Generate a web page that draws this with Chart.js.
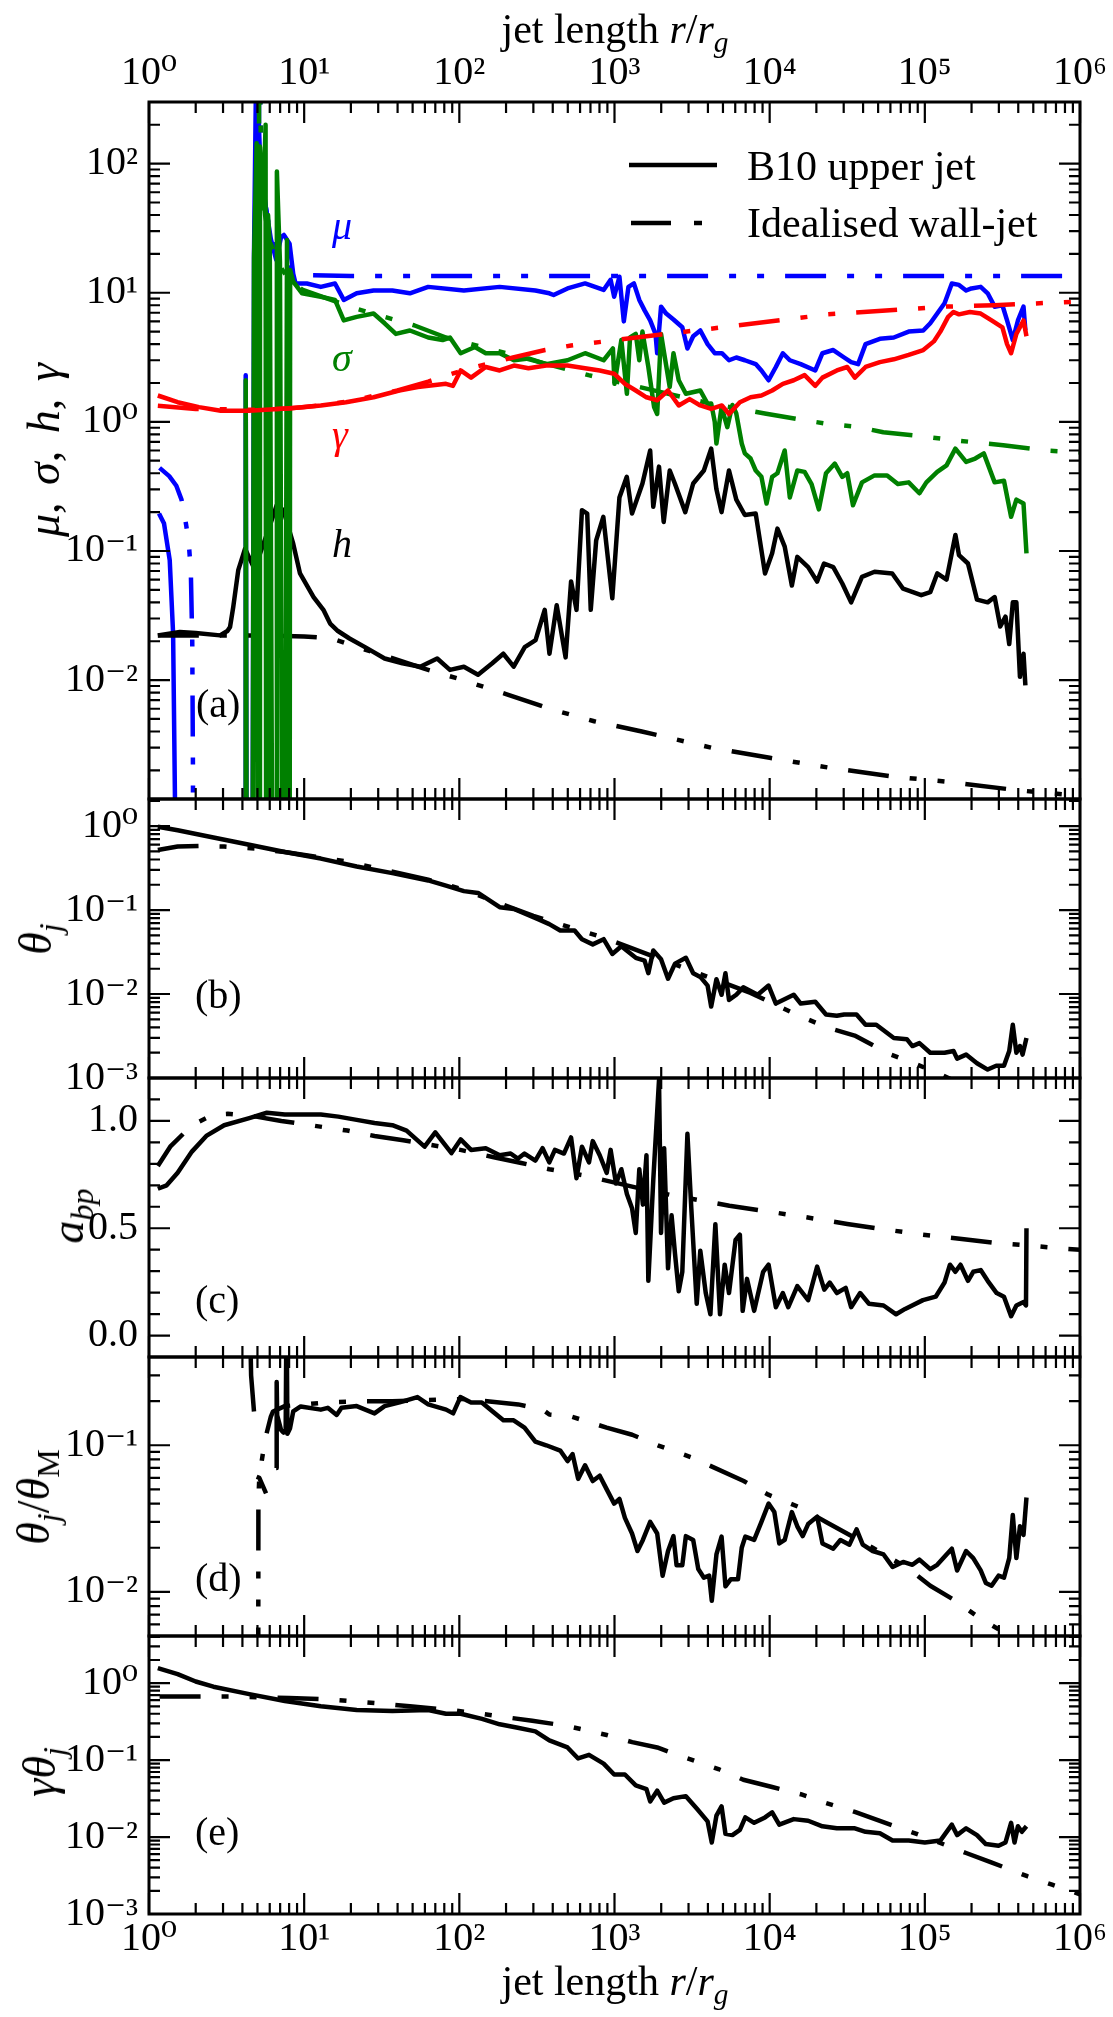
<!DOCTYPE html>
<html>
<head>
<meta charset="utf-8">
<title>Jet profiles</title>
<script src="https://cdn.jsdelivr.net/npm/chart.js@4.4.1/dist/chart.umd.min.js"></script>
<style>
  html, body { margin: 0; background: #fff; }
  #fig { position: relative; width: 1113px; height: 2017px; overflow: hidden;
         font-family: "Liberation Serif", "DejaVu Serif", serif; color: #000; }
  #fig canvas { position: absolute; left: 0; }
  .t { position: absolute; font-size: 40px; line-height: 1; white-space: nowrap; }
  .c { transform: translateX(-50%); }
  .yl { position: absolute; font-size: 46px; line-height: 1; white-space: nowrap;
        transform: translate(-50%, -50%) rotate(-90deg); }
  sub { font-size: 0.7em; vertical-align: -0.3em; line-height: 0; }
</style>
</head>
<body>
<div id="fig">
  <canvas id="pa" width="1113" height="829" style="top:0px"></canvas>
  <canvas id="pb" width="1113" height="339" style="top:769px"></canvas>
  <canvas id="pc" width="1113" height="339" style="top:1048px"></canvas>
  <canvas id="pd" width="1113" height="339" style="top:1327px"></canvas>
  <canvas id="pe" width="1113" height="411" style="top:1606px"></canvas>

  <div class="t c" style="left:615px;top:8px;font-size:42px">jet length <i>r</i>/<i>r</i><sub><i>g</i></sub></div>
  <div class="t c" style="left:615px;top:1960px;font-size:42px">jet length <i>r</i>/<i>r</i><sub><i>g</i></sub></div>

  <div class="yl" style="left:44px;top:450px;word-spacing:6px"><i>μ</i>, <i>σ</i>, <i>h</i>, <i>γ</i></div>
  <div class="yl" style="left:36px;top:939px"><i>θ</i><sub><i>j</i></sub></div>
  <div class="yl" style="left:68px;top:1216px"><i>a</i><sub><i>bp</i></sub></div>
  <div class="yl" style="left:34px;top:1497px"><i>θ</i><sub><i>j</i></sub>/<i>θ</i><sub>M</sub></div>
  <div class="yl" style="left:40px;top:1772px"><i>γθ</i><sub><i>j</i></sub></div>

  <div class="t" style="left:196px;top:684px">(a)</div>
  <div class="t" style="left:195px;top:975px">(b)</div>
  <div class="t" style="left:195px;top:1280px">(c)</div>
  <div class="t" style="left:195px;top:1558px">(d)</div>
  <div class="t" style="left:195px;top:1812px">(e)</div>

  <div class="t" style="left:332px;top:206px;color:#0000ff"><i>μ</i></div>
  <div class="t" style="left:332px;top:338px;color:#008000"><i>σ</i></div>
  <div class="t" style="left:332px;top:415px;color:#ff0000"><i>γ</i></div>
  <div class="t" style="left:332px;top:524px"><i>h</i></div>

  <svg style="position:absolute;left:0;top:0" width="1113" height="260">
    <line x1="629" y1="165" x2="717" y2="165" stroke="#000" stroke-width="4.5"/>
    <line x1="631" y1="223" x2="717" y2="223" stroke="#000" stroke-width="4.5" stroke-dasharray="40 23 8 60"/>
  </svg>
  <div class="t" style="left:747px;top:145px;font-size:42px">B10 upper jet</div>
  <div class="t" style="left:747px;top:202px;font-size:42px">Idealised wall-jet</div>
</div>

<script>
// values: [r/r_g, value]; null breaks a line,
// tiny values stand for points that fall below the axis (negative in the original)

// --- panel (a): mu, sigma, gamma, h ---
const muJet = [[1.16, 0.195], [1.25, 0.163], [1.36, 0.085], [1.43, 0.023], [1.47, 0.0012], [1.48, 1e-5], [1.5, null],
  [4.17, 1e-5], [4.2, 2.3], [4.28, 1e-5], [4.62, 1e-5], [4.75, 20], [4.9, 500], [5.0, 400], [5.2, 110], [5.6, 50],
  [6.1, 26], [6.6, 18], [7.1, 27], [7.4, 28], [8.05, 24], [8.5, 14], [8.8, 11.8], [10.4, 11.8], [12.8, 11.1],
  [15.8, 11.8], [18, 8.8], [21.8, 9.9], [28, 10.4], [37, 10.4], [48, 9.9], [63, 11.1], [107, 10.4], [182, 11.1],
  [309, 10.4], [380, 9.9], [405, 9.6], [498, 10.8], [646, 11.8], [851, 10.5], [944, 12.6], [995, 9.3], [1076, 13.3],
  [1148, 6], [1230, 11.1], [1334, 11.8], [1445, 8.8], [1563, 7.3], [1698, 6.1], [1837, 4.8], [1884, 3.4], [1995, 7.8],
  [2153, 6.9], [2399, 6.2], [2735, 5.4], [2951, 3.7], [3214, 4.6], [3573, 5.1], [3981, 4.0], [4426, 3.4], [4920, 3.4],
  [5470, 3.0], [6095, 3.15], [6918, 3.0], [8128, 2.8], [8851, 2.5], [9840, 2.1], [10960, 2.66], [12160, 3.4],
  [13490, 3.0], [15850, 2.8], [19680, 2.5], [21880, 3.4], [25700, 3.6], [30200, 3.15], [33500, 2.9], [37150, 2.8],
  [41500, 4.0], [51300, 4.4], [63100, 4.5], [78700, 5.0], [97700, 5.1], [108400, 5.8], [120200, 6.9], [134000, 8.3],
  [149300, 11.8], [166000, 11.5], [184500, 10.4], [199500, 10.8], [229100, 11.1], [254100, 9.9], [281800, 7.8],
  [316200, 8.0], [338800, 6.1], [368900, 4.3], [398100, 6.1], [432500, 7.8], [444600, 5.1]];
const muWall = [[1.17, 0.44], [1.35, 0.38], [1.5, 0.32], [1.62, 0.25], [1.72, 0.17], [1.8, 0.12], [1.86, 0.07],
  [1.9, 0.02], [1.92, 0.002], [1.93, 1e-5], [2, null], [5.08, 1e-5], [5.12, 1000], [5.3, 110], [5.6, 50], [6, 30],
  [7, 19], [8, 15.5], [9, 14.2], [10, 13.7], [20, 13.5], [1e6, 13.5]];
const sigmaJet = [[4.17, 1e-5], [4.2, 2.1], [4.28, 1e-5], [4.62, 1e-5], [4.75, 18.5], [4.94, 144], [5.02, 1e-5],
  [5.12, 1e-5], [5.19, 135], [5.45, 45], [5.64, 200], [5.7, 1e-5], [5.78, 1e-5], [5.85, 40], [6.0, 24], [6.3, 1e-5],
  [6.6, 1e-5], [6.67, 87], [6.98, 17.4], [7.3, 1e-5], [7.5, 1e-5], [7.75, 25.6], [7.85, 1e-5], [8.05, 1e-5],
  [8.12, 15], [8.5, 12.2], [9.7, 9.9], [12.8, 9.3], [15.8, 8.8], [18, 6.1], [21.8, 6.5], [28, 6.9], [33, 5.8],
  [39, 4.8], [48, 5.1], [63, 4.5], [78, 4.3], [87, 4.5], [102, 3.4], [126, 3.8], [148, 3.4], [182, 3.4], [225, 3.0],
  [279, 3.1], [363, 2.8], [498, 3.0], [646, 3.4], [851, 3.0], [977, 3.7], [1000, 1.97], [1107, 4.3], [1202, 1.65],
  [1259, 4.5], [1371, 4.8], [1445, 3.0], [1514, 5.0], [1652, 2.66], [1800, 1.3], [1884, 1.15], [1995, 4.8],
  [2089, 3.4], [2270, 1.86], [2399, 3.4], [2594, 2.1], [2884, 1.65], [3573, 1.75], [3981, 1.38], [4198, 1.39],
  [4426, 1.0], [4539, 0.68], [4898, 1.3], [5333, 0.91], [5754, 1.35], [6095, 1.16], [6607, 0.68], [6918, 0.57],
  [7534, 0.52], [8128, 0.42], [8851, 0.375], [9550, 0.233], [10375, 0.375], [11220, 0.4], [12500, 0.6],
  [13490, 0.26], [15070, 0.42], [16790, 0.41], [18620, 0.33], [20750, 0.21], [23070, 0.4], [26300, 0.475],
  [29380, 0.375], [31620, 0.4], [34430, 0.226], [39350, 0.34], [47430, 0.385], [57150, 0.385], [66990, 0.33],
  [78700, 0.34], [92260, 0.28], [102300, 0.34], [120200, 0.41], [138000, 0.46], [157400, 0.62], [184500, 0.49],
  [211300, 0.52], [239900, 0.57], [281800, 0.34], [323600, 0.35], [359700, 0.184], [389000, 0.25], [432500, 0.233],
  [451900, 0.096]];
const sigmaWall = [[5.08, 1e-5], [5.12, 1000], [5.3, 90], [5.6, 40], [6, 25], [7, 16], [8, 12.5], [9.8, 10.5],
  [21.8, 7.5], [51, 5.6], [82, 4.5], [200, 3.4], [680, 2.3], [2000, 1.7], [4000, 1.4], [9300, 1.16], [16600, 1.03],
  [23000, 0.97], [37000, 0.915], [54000, 0.83], [98000, 0.77], [140000, 0.73], [220000, 0.69], [320000, 0.66],
  [600000, 0.6], [1e6, 0.58]];
const gammaJet = [[1.14, 1.6], [1.53, 1.42], [2.1, 1.3], [2.9, 1.22], [4.4, 1.22], [6.8, 1.26], [9.8, 1.3],
  [12.8, 1.34], [18.6, 1.42], [28, 1.55], [41, 1.75], [54, 1.86], [82, 1.97], [91, 1.9], [102, 2.5], [119, 2.2],
  [148, 2.66], [182, 2.5], [225, 2.73], [279, 2.6], [363, 2.73], [498, 2.73], [646, 2.6], [803, 2.5], [995, 2.36],
  [1167, 1.97], [1371, 1.75], [1607, 1.55], [1884, 1.47], [2213, 1.75], [2594, 1.34], [3048, 1.5], [3573, 1.34],
  [4198, 1.26], [4920, 1.34], [5470, 1.15], [6427, 1.42], [7534, 1.55], [8851, 1.6], [10375, 1.75], [12160, 1.97],
  [14290, 2.1], [16790, 2.3], [19680, 1.9], [21880, 2.2], [27100, 2.5], [31620, 2.66], [35400, 2.2], [41500, 2.66],
  [51300, 2.9], [63100, 3.05], [78700, 3.3], [97700, 3.6], [114300, 4.2], [125900, 5.0], [141300, 6.5],
  [153100, 7.1], [166000, 6.8], [195000, 7.1], [229100, 6.9], [269200, 6.1], [316200, 5.4], [338800, 4.0],
  [359700, 3.4], [389000, 4.8], [432500, 6.1], [451900, 4.6]];
const gammaWall = [[1.14, 1.33], [2, 1.26], [5, 1.24], [8, 1.27], [12, 1.33], [20, 1.45], [40, 1.75], [63, 2.05],
  [110, 2.55], [222, 3.15], [357, 3.6], [525, 3.9], [2000, 4.75], [5000, 5.4], [23700, 6.8], [134000, 7.8],
  [280000, 8.0], [440000, 8.2], [900000, 8.5], [1e6, 8.6]];
const hJet = [[1.14, 0.0222], [1.58, 0.0236], [2.0, 0.0232], [2.87, 0.0222], [3.2, 0.024], [3.33, 0.0258],
  [3.49, 0.0368], [3.76, 0.071], [4.16, 0.104], [4.5, 0.085], [4.82, 0.071], [5.19, 0.095], [5.87, 0.145],
  [6.65, 0.226], [7.34, 0.207], [8.5, 0.114], [9.4, 0.067], [11.5, 0.044], [13.3, 0.035], [14.7, 0.0274],
  [16.5, 0.024], [19.6, 0.021], [25.5, 0.0176], [33, 0.0147], [43, 0.0135], [56, 0.0127], [72, 0.0147], [87, 0.012],
  [107, 0.0127], [132, 0.011], [163, 0.0135], [192, 0.016], [224, 0.0127], [264, 0.018], [310, 0.0204], [355, 0.035],
  [381, 0.016], [424, 0.038], [484, 0.015], [525, 0.058], [569, 0.035], [617, 0.207], [667, 0.195], [703, 0.035],
  [762, 0.121], [847, 0.184], [968, 0.043], [1076, 0.26], [1200, 0.375], [1297, 0.195], [1514, 0.333], [1698, 0.6],
  [1778, 0.22], [1936, 0.45], [2075, 0.168], [2270, 0.42], [2455, 0.33], [2858, 0.2], [3214, 0.333], [3767, 0.42],
  [4198, 0.62], [4539, 0.3], [4898, 0.2], [5470, 0.42], [6095, 0.25], [6918, 0.19], [8128, 0.195], [9333, 0.067],
  [10375, 0.096], [11220, 0.149], [12500, 0.108], [13900, 0.054], [15070, 0.09], [17700, 0.075], [20230, 0.058],
  [22390, 0.08], [25700, 0.075], [29380, 0.056], [33500, 0.04], [39350, 0.063], [47430, 0.069], [61660, 0.067],
  [72440, 0.051], [94840, 0.0455], [108400, 0.048], [120200, 0.067], [138000, 0.06], [157400, 0.133],
  [166000, 0.093], [189700, 0.08], [216800, 0.042], [254100, 0.04], [281800, 0.044], [306200, 0.026],
  [331100, 0.031], [349900, 0.019], [368900, 0.04], [389000, 0.04], [410200, 0.0106], [432500, 0.016],
  [444600, 0.0091]];
const hWall = [[1.14, 0.0222], [5, 0.0222], [10, 0.0218], [15, 0.021], [22, 0.018], [37, 0.0148], [60, 0.0122],
  [100, 0.0102], [200, 0.0078], [400, 0.0059], [740, 0.0048], [1500, 0.004], [4200, 0.003], [10000, 0.0025],
  [24000, 0.0021], [60000, 0.0018], [140000, 0.00163], [400000, 0.0014], [860000, 0.00129], [1e6, 0.00127]];

// --- panel (b): theta_j ---
const thetaJet = [[1.14, 0.98], [1.53, 0.89], [2.6, 0.73], [4.43, 0.6], [7.5, 0.49], [12.8, 0.41], [21.8, 0.33],
  [37, 0.275], [63, 0.225], [82, 0.195], [107, 0.168], [132, 0.16], [182, 0.108], [225, 0.103], [327, 0.077],
  [380, 0.068], [447, 0.057], [553, 0.057], [617, 0.045], [724, 0.039], [851, 0.045], [968, 0.03], [1107, 0.037],
  [1371, 0.027], [1563, 0.025], [1652, 0.0177], [1778, 0.033], [1995, 0.026], [2213, 0.0152], [2455, 0.023],
  [2884, 0.027], [3214, 0.0177], [3573, 0.016], [3981, 0.0126], [4198, 0.0071], [4539, 0.015], [4898, 0.0098],
  [5188, 0.0177], [5470, 0.0085], [6095, 0.0098], [6761, 0.012], [8375, 0.0098], [9840, 0.0126], [10960, 0.0077],
  [14290, 0.0098], [15850, 0.0077], [19680, 0.0081], [23070, 0.0057], [27100, 0.0055], [30200, 0.0057],
  [36300, 0.0057], [41500, 0.0043], [48640, 0.0043], [63100, 0.003], [76560, 0.0029], [83180, 0.0024],
  [92260, 0.0026], [108400, 0.002], [134000, 0.002], [153100, 0.0021], [161400, 0.0017], [184500, 0.0019],
  [216800, 0.0015], [254100, 0.00126], [288400, 0.0014], [323600, 0.0014], [349900, 0.0021], [368900, 0.0043],
  [389000, 0.002], [410200, 0.0024], [426600, 0.0019], [451900, 0.003]];
const thetaWall = [[1.14, 0.52], [1.53, 0.57], [2.1, 0.58], [3.05, 0.57], [4.8, 0.54], [7.5, 0.49], [18.6, 0.38],
  [28, 0.32], [63, 0.23], [107, 0.175], [182, 0.12], [300, 0.085], [553, 0.06], [851, 0.047], [1300, 0.035],
  [3000, 0.0195], [7530, 0.0103], [11530, 0.0071], [15850, 0.0054], [24380, 0.0039], [35300, 0.0032],
  [60300, 0.0019], [85100, 0.0015], [127000, 0.0011], [160000, 0.0009], [200000, 0.0007]];

// --- panel (c): a_bp ---
const abpJet = [[1.14, 0.684], [1.3, 0.7], [1.53, 0.758], [1.89, 0.857], [2.34, 0.93], [3.05, 0.98], [4.43, 1.013],
  [5.75, 1.038], [7.5, 1.03], [12.8, 1.03], [16.6, 1.02], [21.8, 1.005], [28.4, 0.99], [37, 0.98], [45.7, 0.955],
  [59.7, 0.88], [70, 0.947], [89, 0.85], [102, 0.914], [119, 0.865], [148, 0.873], [182, 0.84], [214, 0.848],
  [238, 0.824], [263, 0.848], [309, 0.815], [344, 0.873], [380, 0.807], [413, 0.865], [472, 0.848], [525, 0.923],
  [569, 0.733], [617, 0.88], [685, 0.807], [724, 0.906], [803, 0.84], [891, 0.758], [944, 0.865], [1023, 0.708],
  [1107, 0.775], [1202, 0.66], [1297, 0.593], [1371, 0.478], [1445, 0.775], [1524, 0.61], [1607, 0.84],
  [1652, 0.255], [1778, 0.725], [1936, 1.19], [1995, 0.478], [2089, 0.873], [2213, 0.313], [2333, 0.56],
  [2455, 0.38], [2594, 0.206], [2735, 0.297], [2951, 0.94], [3126, 0.593], [3388, 0.148], [3573, 0.395],
  [3873, 0.198], [4150, 0.099], [4467, 0.519], [4786, 0.099], [5129, 0.33], [5470, 0.198], [6026, 0.445],
  [6427, 0.47], [6699, 0.115], [7145, 0.264], [7943, 0.115], [9078, 0.297], [9840, 0.33], [10960, 0.132],
  [12160, 0.198], [13180, 0.132], [15070, 0.23], [17700, 0.165], [20230, 0.321], [22490, 0.214], [24380, 0.247],
  [27100, 0.198], [30900, 0.222], [33500, 0.132], [38280, 0.198], [43650, 0.148], [54200, 0.14], [65310, 0.099],
  [74650, 0.124], [97270, 0.165], [117500, 0.181], [134000, 0.247], [145200, 0.33], [157400, 0.297],
  [169800, 0.33], [189700, 0.255], [205100, 0.297], [229100, 0.305], [254100, 0.255], [290400, 0.198],
  [323600, 0.181], [359700, 0.09], [389000, 0.14], [432500, 0.156], [448700, 0.14], [451900, 0.5]];
const abpWall = [[1.14, 0.79], [1.37, 0.88], [1.89, 0.98], [2.6, 1.03], [3.22, 1.033], [4.9, 1.02], [7.13, 1.0],
  [11, 0.98], [19, 0.955], [28.4, 0.93], [43.5, 0.91], [63, 0.89], [101.6, 0.865], [164, 0.832], [251, 0.804],
  [380, 0.775], [646, 0.745], [1884, 0.667], [3573, 0.63], [5500, 0.605], [8375, 0.585], [15850, 0.555],
  [31620, 0.52], [48640, 0.5], [97270, 0.47], [184500, 0.448], [298500, 0.43], [457100, 0.42], [776200, 0.405],
  [1e6, 0.4]];

// --- panel (d): theta_j / theta_M ---
const ratioJet = [[4.45, 1.0], [4.55, 0.3], [4.75, 0.17], [4.8, null], [4.94, 0.061], [5.14, 0.06], [5.68, 0.047],
  [5.7, null], [6.6, 0.07], [6.65, 0.27], [6.7, 0.16], [7.1, 0.127], [7.35, 0.122], [7.6, 0.125], [7.7, 1.0],
  [7.8, 0.12], [8.1, 0.13], [8.5, 0.17], [9.5, 0.184], [12.8, 0.175], [14.2, 0.18], [16.2, 0.161], [17.4, 0.18],
  [21.8, 0.185], [28.4, 0.165], [33, 0.185], [41.2, 0.196], [53.7, 0.213], [63, 0.19], [82.2, 0.175],
  [91.2, 0.165], [101.6, 0.213], [119, 0.196], [139.6, 0.196], [164, 0.17], [192.3, 0.148], [223.9, 0.148],
  [263, 0.132], [309, 0.106], [363, 0.1], [447, 0.092], [498, 0.078], [537, 0.087], [583, 0.059], [646, 0.073],
  [724, 0.057], [803, 0.062], [891, 0.05], [995, 0.04], [1076, 0.043], [1167, 0.032], [1297, 0.025], [1406, 0.019],
  [1524, 0.0226], [1698, 0.03], [1884, 0.025], [2042, 0.0129], [2213, 0.019], [2399, 0.024], [2512, 0.0152],
  [2735, 0.0152], [2884, 0.024], [3214, 0.0226], [3467, 0.0143], [3767, 0.0125], [4074, 0.0129], [4236, 0.0087],
  [4539, 0.018], [4898, 0.0238], [5188, 0.0109], [5623, 0.0122], [6252, 0.0122], [6607, 0.02], [6966, 0.0238],
  [7943, 0.0226], [8851, 0.03], [9840, 0.04], [10720, 0.035], [11530, 0.0214], [12500, 0.0226], [13900, 0.035],
  [15070, 0.028], [16330, 0.024], [17700, 0.029], [20230, 0.0326], [21880, 0.0214], [25700, 0.0197],
  [28580, 0.0226], [32660, 0.021], [36310, 0.0267], [39810, 0.021], [46130, 0.019], [54200, 0.018],
  [61940, 0.0148], [72440, 0.016], [83180, 0.0153], [92260, 0.0166], [108400, 0.0143], [120200, 0.0153],
  [138000, 0.018], [149300, 0.0197], [161400, 0.014], [184500, 0.019], [205100, 0.017], [229100, 0.014],
  [247200, 0.0115], [269200, 0.011], [298500, 0.0129], [323600, 0.0125], [349900, 0.017], [368900, 0.0335],
  [389000, 0.017], [410200, 0.028], [432500, 0.0245], [451900, 0.044]];
const ratioWall = [[5.06, 0.003], [5.07, 0.042], [5.14, 0.061], [5.59, 0.109], [6.1, 0.157], [6.3, 0.17],
  [7.5, 0.185], [14, 0.196], [25, 0.2], [37, 0.2], [107, 0.207], [240, 0.19], [345, 0.175], [380, 0.162],
  [525, 0.157], [890, 0.132], [1300, 0.118], [1900, 0.1], [3200, 0.082], [6800, 0.057], [9800, 0.046],
  [15850, 0.0375], [23070, 0.03], [46130, 0.02], [78700, 0.0144], [108400, 0.011], [157400, 0.0087],
  [222300, 0.0067], [331100, 0.0052], [450000, 0.0043], [600000, 0.0037]];

// --- panel (e): gamma * theta_j ---
const gtJet = [[1.14, 1.57], [1.53, 1.31], [2.0, 1.05], [2.6, 0.9], [4.43, 0.72], [7.5, 0.585], [12.8, 0.5],
  [21.8, 0.448], [37, 0.434], [63, 0.448], [82, 0.4], [102, 0.4], [140, 0.343], [182, 0.292], [238, 0.263],
  [309, 0.236], [380, 0.18], [498, 0.146], [583, 0.105], [685, 0.117], [851, 0.09], [995, 0.065], [1167, 0.065],
  [1371, 0.047], [1607, 0.042], [1698, 0.029], [1884, 0.04], [2089, 0.028], [2399, 0.032], [2884, 0.034],
  [3388, 0.0235], [3981, 0.016], [4236, 0.0085], [4539, 0.019], [4898, 0.025], [5188, 0.011], [5754, 0.0106],
  [6427, 0.0124], [6966, 0.018], [7943, 0.0153], [9333, 0.018], [10375, 0.021], [11530, 0.0145], [14290, 0.0171],
  [17700, 0.0163], [21880, 0.0138], [27100, 0.013], [35400, 0.013], [41500, 0.0117], [51300, 0.0112],
  [61940, 0.009], [78700, 0.009], [100000, 0.0085], [125900, 0.009], [149300, 0.0145], [161400, 0.0106],
  [184500, 0.013], [216800, 0.0106], [247200, 0.0081], [298500, 0.0077], [331100, 0.0085], [359700, 0.0153],
  [378400, 0.0085], [398100, 0.0138], [421700, 0.0117], [451900, 0.0138]];
const gtWall = [[1.17, 0.67], [2.3, 0.67], [3.5, 0.67], [5.3, 0.655], [8, 0.64], [14, 0.615], [20.7, 0.58],
  [30.9, 0.545], [48, 0.5], [85, 0.45], [126, 0.41], [200, 0.36], [295, 0.325], [498, 0.277], [891, 0.212],
  [1300, 0.171], [1884, 0.146], [2735, 0.111], [4677, 0.0765], [6761, 0.0555], [10375, 0.0447], [15850, 0.036],
  [23070, 0.0277], [35400, 0.0212], [51300, 0.0162], [87500, 0.0111], [184500, 0.0062], [267900, 0.0047],
  [457100, 0.0031], [660700, 0.0024], [1e6, 0.0018]];

// axis limits and tick labels
const xRange = [1, 1e6];
const xTickValues = [1, 10, 100, 1e3, 1e4, 1e5, 1e6];
const yRangeA = [0.0012, 300];
const yRangeB = [1e-3, 2.1];
const yRangeC = [-0.1, 1.2];
const yTicksC = [0, 0.5, 1.0];
const yRangeD = [0.005, 0.4];
const yRangeE = [1e-3, 4.1];

const BLUE = '#0000ff', GREEN = '#008000', RED = '#ff0000', BLACK = '#000000';
const DASH = [41, 21, 7, 21, 7, 21];
const LINE_W = 4.5;
const TICK_FONT = {family: "'Liberation Serif', 'DejaVu Serif', serif", size: 40};
const SUP = {'0': '⁰', '1': '¹', '2': '²', '3': '³', '4': '⁴', '5': '⁵', '6': '⁶', '7': '⁷', '8': '⁸', '9': '⁹', '-': '⁻'};

function powLabel(v) {
  const e = Math.round(Math.log10(v));
  return '10' + String(e).split('').map(ch => SUP[ch]).join('');
}

function decades(min, max) {
  const out = [];
  for (let e = Math.floor(Math.log10(min)); e <= Math.ceil(Math.log10(max)); e++) {
    const v = Math.pow(10, e);
    if (v >= min * 0.999999 && v <= max * 1.000001) out.push(v);
  }
  return out;
}

// inward tick marks (major + minor) and the axes frame, matplotlib style
function tickList(scale) {
  const out = [];
  if (scale.type === 'logarithmic') {
    for (let e = Math.floor(Math.log10(scale.min)) - 1; e <= Math.ceil(Math.log10(scale.max)); e++) {
      for (let m = 1; m <= 9; m++) {
        const v = m * Math.pow(10, e);
        if (v >= scale.min * 0.999999 && v <= scale.max * 1.000001) out.push([v, m === 1]);
      }
    }
  } else {
    for (let k = Math.ceil(scale.min * 10 - 1e-6); k <= Math.floor(scale.max * 10 + 1e-6); k++) {
      out.push([k / 10, k % 5 === 0]);
    }
  }
  return out;
}

const frame = {
  id: 'frame',
  afterDatasetsDraw(chart) {
    const {ctx, chartArea: a} = chart;
    const x = chart.scales.x, y = chart.scales.y;
    ctx.save();
    ctx.strokeStyle = '#000';
    ctx.lineWidth = 2.2;
    ctx.beginPath();
    for (const [v, major] of tickList(x)) {
      const px = x.getPixelForValue(v), len = major ? 21 : 11;
      ctx.moveTo(px, a.top); ctx.lineTo(px, a.top + len);
      ctx.moveTo(px, a.bottom); ctx.lineTo(px, a.bottom - len);
    }
    for (const [v, major] of tickList(y)) {
      const py = y.getPixelForValue(v), len = major ? 21 : 11;
      ctx.moveTo(a.left, py); ctx.lineTo(a.left + len, py);
      ctx.moveTo(a.right, py); ctx.lineTo(a.right - len, py);
    }
    ctx.stroke();
    ctx.lineWidth = 3;
    ctx.strokeRect(a.left, a.top, a.right - a.left, a.bottom - a.top);
    ctx.restore();
  }
};

function line(points, color, dashed) {
  return {
    data: points.map(([x, y]) => ({x, y})),
    borderColor: color,
    borderWidth: LINE_W,
    borderDash: dashed ? DASH : [],
    borderCapStyle: 'butt',
    borderJoinStyle: 'round',
    pointRadius: 0,
    fill: false,
    tension: 0,
    spanGaps: false
  };
}

function logY(range) {
  return {
    type: 'logarithmic', min: range[0], max: range[1],
    ticks: {callback: powLabel},
    afterBuildTicks: s => { s.ticks = decades(range[0], range[1]).map(v => ({value: v})); }
  };
}

function linY(range, ticks) {
  return {
    type: 'linear', min: range[0], max: range[1],
    ticks: {callback: v => v.toFixed(1)},
    afterBuildTicks: s => { s.ticks = ticks.map(v => ({value: v})); }
  };
}

function panel(id, yDef, datasets, xPos, pad) {
  const xScale = {
    type: 'logarithmic', min: xRange[0], max: xRange[1],
    display: !!xPos, position: xPos || 'bottom',
    grid: {display: false, drawTicks: false}, border: {display: false},
    ticks: {font: TICK_FONT, color: '#000', padding: xPos === 'top' ? 5 : 1,
            maxRotation: 0, autoSkip: false, callback: powLabel},
    afterBuildTicks: s => { s.ticks = xTickValues.map(v => ({value: v})); },
    afterFit: s => {
      if (xPos) s.height = xPos === 'top' ? 102 : 103;
      s.paddingLeft = 0; s.paddingRight = 0;
    }
  };
  const yScale = {
    type: yDef.type, min: yDef.min, max: yDef.max, position: 'left',
    grid: {display: false, drawTicks: false}, border: {display: false},
    ticks: {font: TICK_FONT, color: '#000', padding: 11, autoSkip: false, callback: yDef.ticks.callback},
    afterBuildTicks: yDef.afterBuildTicks,
    afterFit: s => { s.width = 149; s.paddingTop = 0; s.paddingBottom = 0; }
  };
  return new Chart(document.getElementById(id), {
    type: 'line',
    data: {datasets},
    options: {
      responsive: false,
      animation: false,
      devicePixelRatio: 1,
      layout: {padding: pad},
      plugins: {legend: {display: false}, tooltip: {enabled: false}},
      scales: {x: xScale, y: yScale}
    },
    plugins: [frame]
  });
}

// first dataset is drawn on top
panel('pa', logY(yRangeA), [
  line(gammaJet, RED, false), line(gammaWall, RED, true),
  line(sigmaJet, GREEN, false), line(sigmaWall, GREEN, true),
  line(hJet, BLACK, false), line(hWall, BLACK, true),
  line(muJet, BLUE, false), line(muWall, BLUE, true)
], 'top', {top: 0, bottom: 30, left: 0, right: 33});

panel('pb', logY(yRangeB), [line(thetaJet, BLACK, false), line(thetaWall, BLACK, true)],
  null, {top: 30, bottom: 30, left: 0, right: 33});

panel('pc', linY(yRangeC, yTicksC), [line(abpJet, BLACK, false), line(abpWall, BLACK, true)],
  null, {top: 30, bottom: 30, left: 0, right: 33});

panel('pd', logY(yRangeD), [line(ratioJet, BLACK, false), line(ratioWall, BLACK, true)],
  null, {top: 30, bottom: 30, left: 0, right: 33});

panel('pe', logY(yRangeE), [line(gtJet, BLACK, false), line(gtWall, BLACK, true)],
  'bottom', {top: 30, bottom: 0, left: 0, right: 33});
</script>
</body>
</html>
